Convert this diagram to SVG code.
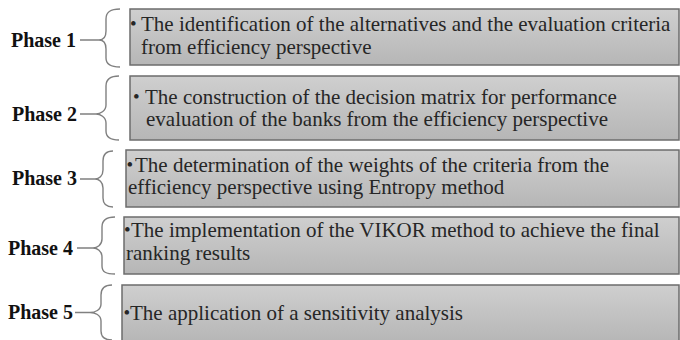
<svg xmlns="http://www.w3.org/2000/svg" width="680" height="340" viewBox="0 0 680 340">
  <defs>
    <linearGradient id="boxFill" x1="0" y1="0" x2="0" y2="1">
      <stop offset="0" stop-color="#cfcfcf"/>
      <stop offset="1" stop-color="#b6b6b6"/>
    </linearGradient>
    <style>
      .box { fill: url(#boxFill); stroke: #6c6c6c; stroke-width: 1.5; }
      .brace { fill: none; stroke: #808080; stroke-width: 1.4; }
      .phase { font-family: "Liberation Serif", "Times New Roman", serif; font-weight: bold; font-size: 20px; fill: #111; }
      .body { font-family: "Liberation Serif", "Times New Roman", serif; font-size: 21px; fill: #262626; }
      .dot { font-size: 19px; }
    </style>
  </defs>
  <rect width="680" height="340" fill="#ffffff"/>

  <!-- braces linking each phase label to its box -->
  <g id="connectors">
    <path class="brace" d="M80,40 H99 M120,9 C110,9 106,12 106,19 L106,31 C106,37 103,40 99,40 C103,40 106,43 106,49 L106,58 C106,64 110,67 120,67"/>
    <path class="brace" d="M80,114 H96 M119,76 C110,76 106,79 106,86 L106,105 C106,111 100,114 96,114 C100,114 106,117 106,123 L106,131 C106,137 110,140 119,140"/>
    <path class="brace" d="M80,179 H95 M113,151 C106,151 103,154 103,161 L103,170 C103,176 99,179 95,179 C99,179 103,182 103,188 L103,198 C103,204 106,207 113,207"/>
    <path class="brace" d="M77,248 H93 M115,217 C106,217 102,220 102,227 L102,239 C102,245 97,248 93,248 C97,248 102,251 102,257 L102,266 C102,272 106,274 115,274"/>
    <path class="brace" d="M75,312.5 H90 M112,285 C105,285 101,288 101,295 L101,304 C101,310 95,312.5 90,312.5 C95,312.5 101,315 101,321 L101,331 C101,337 105,340 112,340"/>
  </g>

  <g id="phase1">
    <text class="phase" x="11" y="46.5">Phase 1</text>
    <rect class="box" x="130" y="9" width="549" height="56"/>
    <text class="body" y="31"><tspan class="dot" x="130" dy="-1">•</tspan><tspan x="141" dy="1">The identification of the alternatives and the evaluation criteria</tspan></text>
    <text class="body" x="141" y="53.5">from efficiency perspective</text>
  </g>

  <g id="phase2">
    <text class="phase" x="12" y="120.5">Phase 2</text>
    <rect class="box" x="130" y="76" width="549" height="64"/>
    <text class="body" y="103.5"><tspan class="dot" x="133" dy="-1">•</tspan><tspan x="145" dy="1">The construction of the decision matrix for performance</tspan></text>
    <text class="body" x="146" y="126">evaluation of the banks from the efficiency perspective</text>
  </g>

  <g id="phase3">
    <text class="phase" x="12" y="184.5">Phase 3</text>
    <rect class="box" x="126" y="150" width="553" height="57"/>
    <text class="body" y="171.5"><tspan class="dot" x="126.5" dy="-1">•</tspan><tspan x="135" dy="1">The determination of the weights of the criteria from the</tspan></text>
    <text class="body" x="128" y="194">efficiency perspective using Entropy method</text>
  </g>

  <g id="phase4">
    <text class="phase" x="8" y="254.5">Phase 4</text>
    <rect class="box" x="124" y="217" width="555" height="57"/>
    <text class="body" y="237"><tspan class="dot" x="124" dy="-1">•</tspan><tspan x="131" dy="1">The implementation of the VIKOR method to achieve the final</tspan></text>
    <text class="body" x="126" y="259.5">ranking results</text>
  </g>

  <g id="phase5">
    <text class="phase" x="8" y="318.5">Phase 5</text>
    <rect class="box" x="122" y="285" width="557" height="57"/>
    <text class="body" y="319.5"><tspan class="dot" x="123.5" dy="-1">•</tspan><tspan x="130" dy="1">The application of a sensitivity analysis</tspan></text>
  </g>
</svg>
